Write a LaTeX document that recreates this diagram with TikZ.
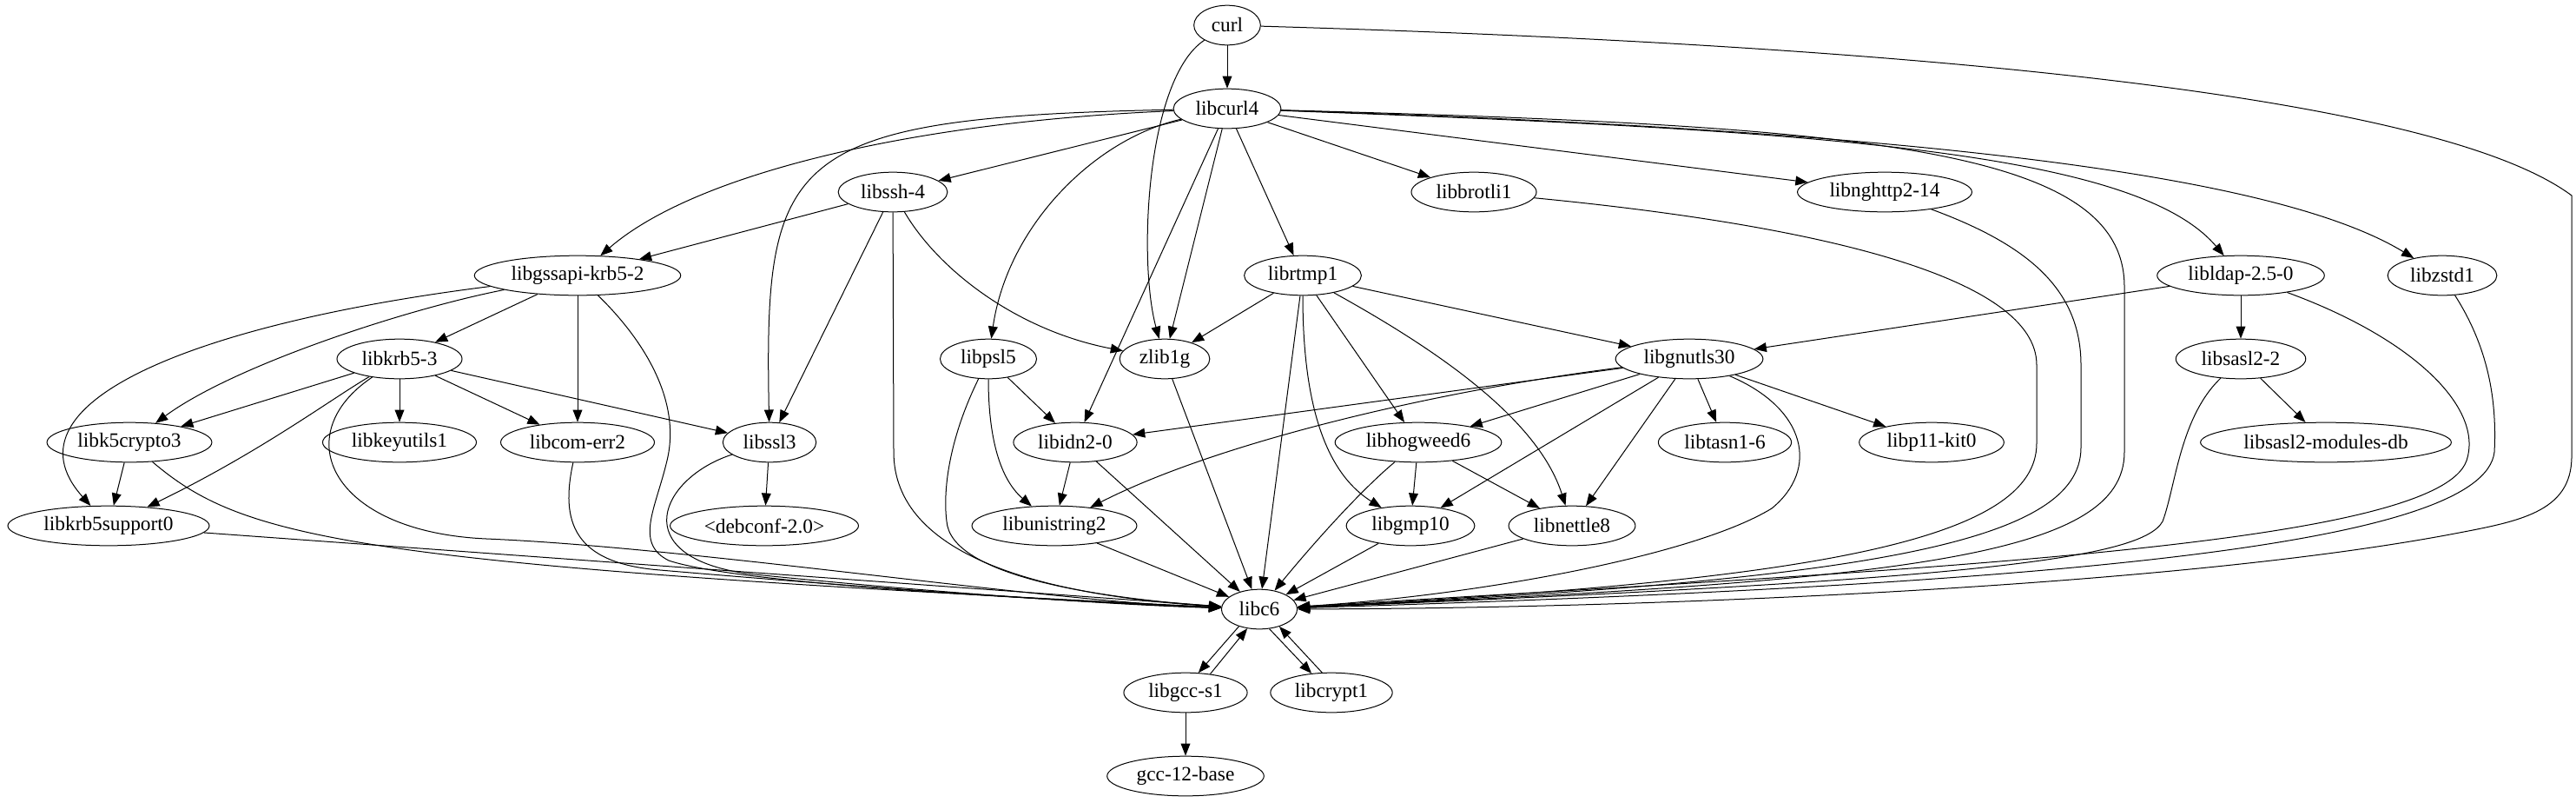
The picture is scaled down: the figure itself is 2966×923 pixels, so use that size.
\documentclass[tikz,border=0pt]{standalone}
\usepackage{fontspec}
\setmainfont{Liberation Serif}
\usetikzlibrary{arrows.meta,shapes.geometric}

\begin{document}
\begin{tikzpicture}[
  x=0.6pt, y=-0.6pt,
  pkg/.style={draw, ellipse, line width=0.6pt, inner xsep=4.5pt, inner ysep=0pt,
    minimum height=27.4pt, minimum width=41pt, font=\fontsize{14pt}{16pt}\selectfont},
  dep/.style={-{Triangle[length=8.5pt,width=6.5pt]}, line width=0.6pt}
]
\useasboundingbox (0,0) rectangle (2966,923);

\node[pkg, minimum width=46pt] (curl) at (1413,29) {curl};
\node[pkg] (libcurl) at (1413,125) {libcurl4};
\node[pkg] (ssh) at (1028,221) {libssh-4};
\node[pkg] (brotli) at (1697,221) {libbrotli1};
\node[pkg] (nghttp) at (2170,221) {libnghttp2-14};
\node[pkg] (gssapi) at (665,317) {libgssapi-krb5-2};
\node[pkg] (rtmp) at (1500,317) {librtmp1};
\node[pkg] (ldap) at (2580,317) {libldap-2.5-0};
\node[pkg] (zstd) at (2812,317) {libzstd1};
\node[pkg] (krb) at (460,413) {libkrb5-3};
\node[pkg] (psl) at (1138,413) {libpsl5};
\node[pkg] (zlib) at (1341,413) {zlib1g};
\node[pkg] (gnutls) at (1945,413) {libgnutls30};
\node[pkg] (sasl) at (2580,413) {libsasl2-2};
\node[pkg] (kcrypto) at (149,509) {libk5crypto3};
\node[pkg] (keyutils) at (460,509) {libkeyutils1};
\node[pkg] (comerr) at (665,509) {libcom-err2};
\node[pkg] (ssl) at (886,509) {libssl3};
\node[pkg] (idn) at (1238,509) {libidn2-0};
\node[pkg] (hogweed) at (1633,509) {libhogweed6};
\node[pkg] (tasn) at (1986,509) {libtasn1-6};
\node[pkg] (pkit) at (2224,509) {libp11-kit0};
\node[pkg] (sasldb) at (2678,509) {libsasl2-modules-db};
\node[pkg] (krbsupport) at (125,605) {libkrb5support0};
\node[pkg] (debconf) at (880,605) {<debconf-2.0>};
\node[pkg] (unistring) at (1214,605) {libunistring2};
\node[pkg] (gmp) at (1624,605) {libgmp10};
\node[pkg] (nettle) at (1810,605) {libnettle8};
\node[pkg] (libc) at (1450,701) {libc6};
\node[pkg] (gccs) at (1365,797) {libgcc-s1};
\node[pkg] (crypt) at (1533,797) {libcrypt1};
\node[pkg] (gccbase) at (1365,893) {gcc-12-base};

\draw[dep] (curl) -- (libcurl);
\draw[dep] (curl) .. controls (1320,90) and (1310,300) .. (zlib);
\draw[dep] (curl) .. controls (2300,55) and (2820,120) .. (2961,225) -- (2961,525)
  .. controls (2961,590) and (2900,600) .. (2821,615) .. controls (2500,675) and (1900,700) .. (libc);

\draw[dep] (libcurl) -- (ssh);
\draw[dep] (libcurl) .. controls (1050,140) and (800,200) .. (gssapi);
\draw[dep] (libcurl) .. controls (900,135) and (880,180) .. (ssl);
\draw[dep] (libcurl) .. controls (1260,160) and (1160,260) .. (psl);
\draw[dep] (libcurl) -- (zlib);
\draw[dep] (libcurl) -- (idn);
\draw[dep] (libcurl) -- (rtmp);
\draw[dep] (libcurl) -- (brotli);
\draw[dep] (libcurl) -- (nghttp);
\draw[dep] (libcurl) .. controls (2100,150) and (2460,175) .. (ldap);
\draw[dep] (libcurl) .. controls (2200,150) and (2620,200) .. (zstd);
\draw[dep] (libcurl) .. controls (2150,145) and (2446,170) .. (2446,330) -- (2446,520)
  .. controls (2446,640) and (2200,668) .. (libc);

\draw[dep] (brotli) .. controls (2100,260) and (2345,320) .. (2345,420) -- (2345,510)
  .. controls (2345,620) and (2100,668) .. (libc);
\draw[dep] (nghttp) .. controls (2330,280) and (2396,330) .. (2396,420) -- (2396,515)
  .. controls (2396,625) and (2150,668) .. (libc);
\draw[dep] (ldap) -- (gnutls);
\draw[dep] (ldap) -- (sasl);
\draw[dep] (ldap) .. controls (2780,390) and (2860,470) .. (2840,530)
  .. controls (2805,630) and (2200,655) .. (libc);
\draw[dep] (zstd) .. controls (2865,400) and (2875,460) .. (2872,520)
  .. controls (2860,625) and (2400,672) .. (libc);
\draw[dep] (sasl) -- (sasldb);
\draw[dep] (sasl) .. controls (2510,480) and (2505,560) .. (2490,600)
  .. controls (2465,645) and (2250,668) .. (libc);

\draw[dep] (gnutls) -- (idn);
\draw[dep] (gnutls) .. controls (1650,450) and (1400,510) .. (unistring);
\draw[dep] (gnutls) -- (hogweed);
\draw[dep] (gnutls) -- (gmp);
\draw[dep] (gnutls) -- (nettle);
\draw[dep] (gnutls) -- (tasn);
\draw[dep] (gnutls) -- (pkit);
\draw[dep] (gnutls) .. controls (2080,470) and (2095,540) .. (2040,585)
  .. controls (1950,640) and (1700,685) .. (libc);

\draw[dep] (rtmp) -- (zlib);
\draw[dep] (rtmp) -- (gnutls);
\draw[dep] (rtmp) -- (libc);
\draw[dep] (rtmp) .. controls (1500,450) and (1520,540) .. (gmp);
\draw[dep] (rtmp) -- (hogweed);
\draw[dep] (rtmp) .. controls (1650,400) and (1770,480) .. (nettle);

\draw[dep] (ssh) -- (gssapi);
\draw[dep] (ssh) -- (ssl);
\draw[dep] (ssh) -- (1029,520) .. controls (1029,640) and (1200,685) .. (libc);
\draw[dep] (ssh) .. controls (1080,310) and (1170,380) .. (zlib);

\draw[dep] (gssapi) -- (krb);
\draw[dep] (gssapi) -- (comerr);
\draw[dep] (gssapi) .. controls (470,355) and (270,420) .. (kcrypto);
\draw[dep] (gssapi) .. controls (240,370) and (-5,460) .. (krbsupport);
\draw[dep] (gssapi) .. controls (740,390) and (785,460) .. (768,530)
  .. controls (755,585) and (730,625) .. (770,645)
  .. controls (850,672) and (1200,690) .. (libc);

\draw[dep] (krb) -- (kcrypto);
\draw[dep] (krb) -- (keyutils);
\draw[dep] (krb) -- (comerr);
\draw[dep] (krb) -- (ssl);
\draw[dep] (krb) .. controls (380,460) and (300,520) .. (krbsupport);
\draw[dep] (krb) .. controls (330,500) and (380,612) .. (560,620)
  .. controls (800,630) and (1200,692) .. (libc);

\draw[dep] (kcrypto) -- (krbsupport);
\draw[dep] (kcrypto) .. controls (280,620) and (400,650) .. (libc);
\draw[dep] (krbsupport) -- (libc);
\draw[dep] (comerr) .. controls (645,600) and (660,648) .. (760,656)
  .. controls (900,668) and (1200,692) .. (libc);
\draw[dep] (ssl) -- (debconf);
\draw[dep] (ssl) .. controls (760,550) and (720,640) .. (860,660)
  .. controls (1000,675) and (1250,695) .. (libc);

\draw[dep] (psl) -- (idn);
\draw[dep] (psl) .. controls (1138,500) and (1150,550) .. (unistring);
\draw[dep] (psl) .. controls (1095,500) and (1085,560) .. (1090,600)
  .. controls (1095,660) and (1250,687) .. (libc);
\draw[dep] (zlib) -- (libc);
\draw[dep] (idn) -- (unistring);
\draw[dep] (idn) -- (libc);
\draw[dep] (unistring) -- (libc);
\draw[dep] (hogweed) -- (gmp);
\draw[dep] (hogweed) -- (nettle);
\draw[dep] (hogweed) .. controls (1560,570) and (1500,640) .. (libc);
\draw[dep] (gmp) -- (libc);
\draw[dep] (nettle) -- (libc);

\draw[dep] (libc.220) -- (gccs.57);
\draw[dep] (gccs.37) -- (libc.238);
\draw[dep] (libc.297) -- (crypt.136);
\draw[dep] (crypt.115) -- (libc.319);
\draw[dep] (gccs) -- (gccbase);
\end{tikzpicture}
\end{document}
